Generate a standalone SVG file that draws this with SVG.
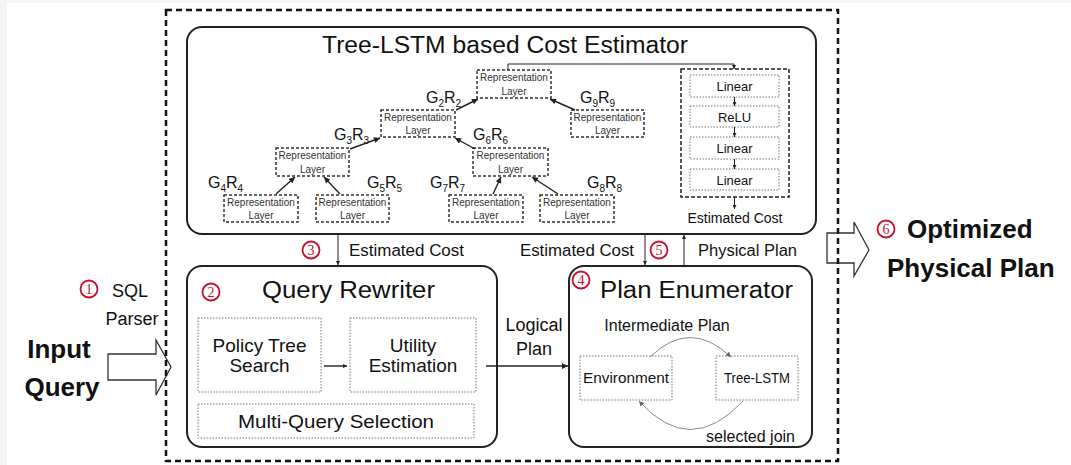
<svg xmlns="http://www.w3.org/2000/svg" width="1071" height="465" viewBox="0 0 1071 465">
  <style>
    text { font-family: "Liberation Sans", Arial, sans-serif; fill: #111; }
    .panel { fill: #fff; stroke: #222; stroke-width: 2; }
    .outer { fill: none; stroke: #111; stroke-width: 2.5; stroke-dasharray: 6 4; }
    .rep { fill: #fff; stroke: #333; stroke-width: 1.5; stroke-dasharray: 3 2; }
    .mlp { fill: none; stroke: #222; stroke-width: 1.5; stroke-dasharray: 4 2; }
    .dot { fill: #fff; stroke: #777; stroke-width: 1; stroke-dasharray: 1.5 1.5; }
    .wire { fill: none; stroke: #222; stroke-width: 1.4; }
    .thin { fill: none; stroke: #222; stroke-width: 1; }
    .loop { fill: none; stroke: #888; stroke-width: 1; }
    .block { fill: none; stroke: #333; stroke-width: 1.3; stroke-linejoin: miter; }
    .num circle { fill: #fff; stroke: #c8102e; stroke-width: 1.8; }
    .num text { font-family: "Liberation Serif", "Times New Roman", serif; fill: #c8102e; font-size: 14px; text-anchor: middle; }
    .replbl { font-size: 10px; text-anchor: middle; fill: #333; }
    .g { font-size: 16px; }
    .g tspan.s { font-size: 10px; }
    .lbl { font-size: 16px; }
    .big { font-size: 26px; font-weight: bold; }
  </style>
  <defs>
    <marker id="ah" viewBox="0 0 10 10" refX="10" refY="5" markerWidth="7" markerHeight="6" markerUnits="userSpaceOnUse" orient="auto">
      <path d="M0,0 L10,5 L0,10 z" fill="#222"/>
    </marker>
    <marker id="ahs" viewBox="0 0 10 10" refX="10" refY="5" markerWidth="5" markerHeight="4" markerUnits="userSpaceOnUse" orient="auto">
      <path d="M0,0 L10,5 L0,10 z" fill="#222"/>
    </marker>
    <marker id="ahg" viewBox="0 0 10 10" refX="10" refY="5" markerWidth="6" markerHeight="5" markerUnits="userSpaceOnUse" orient="auto">
      <path d="M0,0 L10,5 L0,10 z" fill="#666"/>
    </marker>
  </defs>

  <!-- page margins -->
  <rect x="0" y="0" width="1071" height="465" fill="#fff"/>
  <rect x="0" y="0" width="7" height="465" fill="#f4f4f4"/>
  <rect x="0" y="0" width="1071" height="3" fill="#f4f4f4"/>

  <!-- cost estimator -->
  <g id="cost-estimator">
    <rect class="panel" x="187" y="27" width="629" height="207" rx="15"/>
    <text x="505" y="53" font-size="23" text-anchor="middle" textLength="366" lengthAdjust="spacingAndGlyphs">Tree-LSTM based Cost Estimator</text>
  </g>

  <g id="rep-root">
    <rect class="rep" x="477" y="70" width="74" height="28"/>
    <text class="replbl" x="514" y="81">Representation</text>
    <text class="replbl" x="514" y="94.5">Layer</text>
  </g>
  <g id="rep-l2">
    <rect class="rep" x="381" y="110" width="74" height="27"/>
    <text class="replbl" x="418" y="121">Representation</text>
    <text class="replbl" x="418" y="134">Layer</text>
  </g>
  <g id="rep-r9">
    <rect class="rep" x="571" y="110" width="73" height="27"/>
    <text class="replbl" x="607.5" y="121">Representation</text>
    <text class="replbl" x="607.5" y="134">Layer</text>
  </g>
  <g id="rep-l3">
    <rect class="rep" x="276" y="148" width="73" height="28"/>
    <text class="replbl" x="312.5" y="159">Representation</text>
    <text class="replbl" x="312.5" y="172.5">Layer</text>
  </g>
  <g id="rep-r6">
    <rect class="rep" x="473" y="148" width="75" height="28"/>
    <text class="replbl" x="510.5" y="159">Representation</text>
    <text class="replbl" x="510.5" y="172.5">Layer</text>
  </g>
  <g id="rep-leaf4">
    <rect class="rep" x="224" y="195" width="74" height="27"/>
    <text class="replbl" x="261" y="206">Representation</text>
    <text class="replbl" x="261" y="219">Layer</text>
  </g>
  <g id="rep-leaf5">
    <rect class="rep" x="316" y="195" width="73" height="27"/>
    <text class="replbl" x="352.5" y="206">Representation</text>
    <text class="replbl" x="352.5" y="219">Layer</text>
  </g>
  <g id="rep-leaf7">
    <rect class="rep" x="449" y="195" width="74" height="27"/>
    <text class="replbl" x="486" y="206">Representation</text>
    <text class="replbl" x="486" y="219">Layer</text>
  </g>
  <g id="rep-leaf8">
    <rect class="rep" x="540" y="195" width="74" height="27"/>
    <text class="replbl" x="577" y="206">Representation</text>
    <text class="replbl" x="577" y="219">Layer</text>
  </g>

  <!-- node state labels -->
  <g id="state-labels">
    <text class="g" x="426" y="103">G<tspan class="s" dy="4">2</tspan><tspan dy="-4">R</tspan><tspan class="s" dy="4">2</tspan></text>
    <text class="g" x="580" y="103">G<tspan class="s" dy="4">9</tspan><tspan dy="-4">R</tspan><tspan class="s" dy="4">9</tspan></text>
    <text class="g" x="334" y="140">G<tspan class="s" dy="4">3</tspan><tspan dy="-4">R</tspan><tspan class="s" dy="4">3</tspan></text>
    <text class="g" x="473" y="140">G<tspan class="s" dy="4">6</tspan><tspan dy="-4">R</tspan><tspan class="s" dy="4">6</tspan></text>
    <text class="g" x="208" y="188">G<tspan class="s" dy="4">4</tspan><tspan dy="-4">R</tspan><tspan class="s" dy="4">4</tspan></text>
    <text class="g" x="367" y="188">G<tspan class="s" dy="4">5</tspan><tspan dy="-4">R</tspan><tspan class="s" dy="4">5</tspan></text>
    <text class="g" x="430" y="188">G<tspan class="s" dy="4">7</tspan><tspan dy="-4">R</tspan><tspan class="s" dy="4">7</tspan></text>
    <text class="g" x="587" y="188">G<tspan class="s" dy="4">8</tspan><tspan dy="-4">R</tspan><tspan class="s" dy="4">8</tspan></text>
  </g>

  <!-- MLP head -->
  <g id="mlp">
    <rect class="mlp" x="681" y="69" width="108" height="128"/>
    <rect class="dot" x="690" y="75" width="89" height="22"/>
    <text x="734.5" y="91" font-size="13" text-anchor="middle">Linear</text>
    <rect class="dot" x="690" y="106" width="89" height="21"/>
    <text x="734.5" y="121.5" font-size="13" text-anchor="middle">ReLU</text>
    <rect class="dot" x="690" y="137" width="89" height="22"/>
    <text x="734.5" y="153" font-size="13" text-anchor="middle">Linear</text>
    <rect class="dot" x="690" y="169" width="89" height="21"/>
    <text x="734.5" y="184.5" font-size="13" text-anchor="middle">Linear</text>
    <text x="735" y="223" font-size="14" text-anchor="middle">Estimated Cost</text>
  </g>

  <!-- query rewriter -->
  <g id="query-rewriter">
    <rect class="panel" x="187" y="266" width="310" height="181" rx="15"/>
    <text x="262" y="298" font-size="23" textLength="173" lengthAdjust="spacingAndGlyphs">Query Rewriter</text>
  </g>
  <g id="policy-tree-search">
    <rect class="dot" x="198" y="318" width="123" height="74"/>
    <text x="259.5" y="352" font-size="19" text-anchor="middle">Policy Tree</text>
    <text x="259.5" y="372" font-size="19" text-anchor="middle">Search</text>
  </g>
  <g id="utility-estimation">
    <rect class="dot" x="350" y="318" width="126" height="74"/>
    <text x="413" y="352" font-size="19" text-anchor="middle">Utility</text>
    <text x="413" y="372" font-size="19" text-anchor="middle">Estimation</text>
  </g>
  <g id="multi-query-selection">
    <rect class="dot" x="198" y="404" width="276" height="34"/>
    <text x="336" y="427.5" font-size="19" text-anchor="middle" textLength="196" lengthAdjust="spacingAndGlyphs">Multi-Query Selection</text>
  </g>

  <!-- plan enumerator -->
  <g id="plan-enumerator">
    <rect class="panel" x="569" y="266" width="243" height="181" rx="15"/>
    <text x="600" y="298" font-size="23" textLength="193" lengthAdjust="spacingAndGlyphs">Plan Enumerator</text>
    <text x="667" y="331" class="lbl" text-anchor="middle">Intermediate Plan</text>
    <text x="795" y="442" class="lbl" text-anchor="end">selected join</text>
  </g>
  <g id="environment">
    <rect class="dot" x="580" y="356" width="92" height="44"/>
    <text x="626" y="383" font-size="15" text-anchor="middle" textLength="86" lengthAdjust="spacingAndGlyphs">Environment</text>
  </g>
  <g id="tree-lstm">
    <rect class="dot" x="716" y="356" width="82" height="44"/>
    <text x="757" y="383" font-size="14" text-anchor="middle" textLength="66" lengthAdjust="spacingAndGlyphs">Tree-LSTM</text>
  </g>

  <!-- input / output -->
  <g id="input-query">
    <text class="big" x="59" y="358" text-anchor="middle">Input</text>
    <text class="big" x="62" y="396" text-anchor="middle">Query</text>
    <polygon class="block" points="108,354 156,354 156,340 171,367 156,395 156,380 108,380"/>
  </g>
  <g id="sql-parser">
    <text x="130" y="297" font-size="18" text-anchor="middle">SQL</text>
    <text x="132" y="325" font-size="18" text-anchor="middle">Parser</text>
  </g>
  <g id="optimized-plan">
    <polygon class="block" points="827,233 854,233 854,222 869,250 854,276 854,263 827,263"/>
    <text class="big" x="907" y="238">Optimized</text>
    <text class="big" x="887" y="277">Physical Plan</text>
  </g>

  <!-- step markers -->
  <g id="step-markers" class="num">
    <circle cx="89" cy="289" r="8.5"/><text x="89" y="294">1</text>
    <circle cx="211" cy="292" r="8.5"/><text x="211" y="297">2</text>
    <circle cx="311" cy="250" r="8.5"/><text x="311" y="255">3</text>
    <circle cx="581" cy="280" r="8.5"/><text x="581" y="285">4</text>
    <circle cx="659" cy="250" r="8.5"/><text x="659" y="255">5</text>
    <circle cx="886" cy="229" r="8.5"/><text x="886" y="234">6</text>
  </g>

  <!-- connectors -->
  <g id="connectors">
    <!-- tree edges -->
    <line class="wire" x1="276" y1="194" x2="295" y2="177" marker-end="url(#ah)"/>
    <line class="wire" x1="340" y1="194" x2="324" y2="177" marker-end="url(#ah)"/>
    <line class="wire" x1="493" y1="194" x2="501" y2="177" marker-end="url(#ah)"/>
    <line class="wire" x1="558" y1="194" x2="532" y2="177" marker-end="url(#ah)"/>
    <line class="wire" x1="350" y1="149" x2="380" y2="138" marker-end="url(#ah)"/>
    <line class="wire" x1="475" y1="149" x2="455" y2="138" marker-end="url(#ah)"/>
    <line class="wire" x1="456" y1="110" x2="478" y2="99" marker-end="url(#ah)"/>
    <line class="wire" x1="575" y1="110" x2="550" y2="99" marker-end="url(#ah)"/>
    <!-- root to MLP head -->
    <path class="thin" d="M508,70 V64 H734 V69" marker-end="url(#ahs)"/>
    <line class="thin" x1="734.5" y1="97" x2="734.5" y2="106" marker-end="url(#ahs)"/>
    <line class="thin" x1="734.5" y1="127" x2="734.5" y2="137" marker-end="url(#ahs)"/>
    <line class="thin" x1="734.5" y1="159" x2="734.5" y2="169" marker-end="url(#ahs)"/>
    <line class="thin" x1="734.5" y1="197" x2="734.5" y2="209" marker-end="url(#ahs)"/>

    <!-- cost feedback to rewriter -->
    <line class="thin" x1="338" y1="234" x2="338" y2="265" marker-end="url(#ahs)"/>
    <text x="349" y="256" class="lbl" textLength="115" lengthAdjust="spacingAndGlyphs">Estimated Cost</text>

    <!-- estimator <-> enumerator -->
    <line class="thin" x1="645" y1="234" x2="645" y2="265" marker-end="url(#ahs)"/>
    <line class="thin" x1="684" y1="266" x2="684" y2="235" marker-end="url(#ahs)"/>
    <text x="520" y="256" class="lbl" textLength="114" lengthAdjust="spacingAndGlyphs">Estimated Cost</text>
    <text x="698" y="256" class="lbl" textLength="99" lengthAdjust="spacingAndGlyphs">Physical Plan</text>

    <!-- rewriter internals -->
    <line class="wire" x1="324" y1="366" x2="347" y2="366" marker-end="url(#ahs)"/>

    <!-- logical plan -->
    <line class="wire" x1="486" y1="366" x2="568" y2="366" marker-end="url(#ah)"/>
    <text x="534" y="331" font-size="18" text-anchor="middle">Logical</text>
    <text x="534" y="355" font-size="18" text-anchor="middle">Plan</text>

    <!-- enumeration loop -->
    <path class="loop" d="M650,357 Q690,318 731,357" marker-end="url(#ahg)"/>
    <path class="loop" d="M743,401 Q690,458 639,401" marker-end="url(#ahg)"/>
  </g>

  <!-- system boundary -->
  <rect class="outer" x="166" y="10" width="672" height="451"/>
</svg>
